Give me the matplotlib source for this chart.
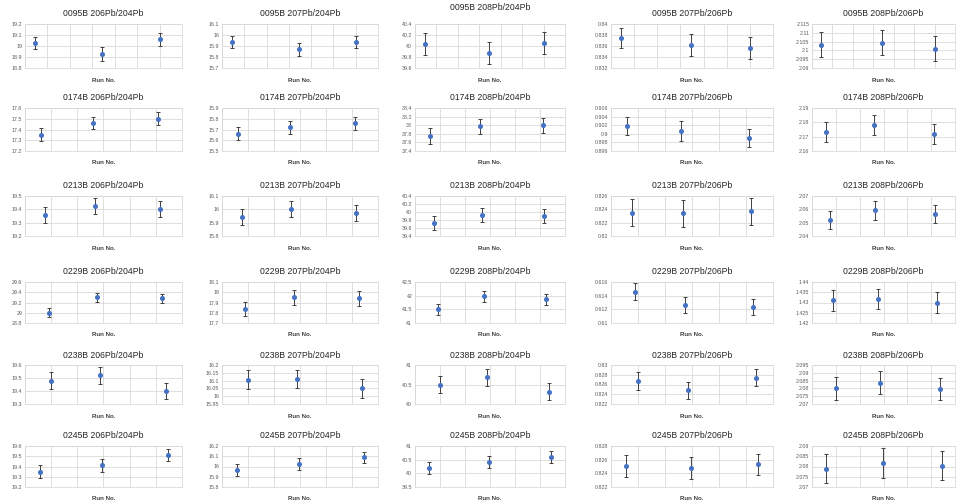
import matplotlib

matplotlib.use("Agg")
import matplotlib.pyplot as plt
import numpy as np

plt.rcParams["font.family"] = ["Liberation Sans", "DejaVu Sans"]

W, H = 958, 504

samples = ["0095B", "0174B", "0213B", "0229B", "0238B", "0245B"]
ratios = ["206Pb/204Pb", "207Pb/204Pb", "208Pb/204Pb", "207Pb/206Pb", "208Pb/206Pb"]

# run positions on the (unlabelled) x axis, one list per sample
run_x = {
    "0095B": [0.45, 3.45, 6.0],
    "0174B": [0.6, 2.6, 5.1],
    "0213B": [0.77, 2.66, 5.17],
    "0229B": [0.9, 2.75, 5.25],
    "0238B": [1.0, 2.87, 5.37],
    "0245B": [0.57, 2.96, 5.45],
}
x_max = {"0095B": 7, "0174B": 6, "0213B": 6, "0229B": 6, "0238B": 6, "0245B": 6}

# measured ratios (3 runs) per sample, in ratio order
vals_0095B = [[19.03, 18.93, 19.06], [15.94, 15.87, 15.935], [40.03, 39.88, 40.05],
              [0.8374, 0.8361, 0.8357], [2.1033, 2.1044, 2.101]]
vals_0174B = [[17.35, 17.46, 17.50], [15.66, 15.72, 15.76], [37.75, 37.97, 38.0],
              [0.9018, 0.9007, 0.899], [2.1735, 2.178, 2.172]]
vals_0213B = [[19.36, 19.425, 19.40], [15.945, 16.005, 15.975], [39.73, 39.93, 39.9],
              [0.8235, 0.8234, 0.8237], [2.052, 2.0592, 2.0566]]
vals_0229B = [[29.0, 29.3, 29.28], [17.835, 17.95, 17.94], [41.5, 41.97, 41.87],
              [0.6146, 0.6126, 0.6123], [1.431, 1.4317, 1.430]]
vals_0238B = [[19.478, 19.52, 19.40], [16.106, 16.11, 16.05], [40.5, 40.68, 40.32],
              [0.8267, 0.8248, 0.8274], [2.080, 2.0835, 2.0795]]
vals_0245B = [[19.35, 19.41, 19.51], [15.965, 16.025, 16.09], [40.2, 40.4, 40.6],
              [0.8251, 0.8248, 0.8253], [2.079, 2.0817, 2.0804]]

# 2-sigma error bars
errs_0095B = [[0.055, 0.065, 0.06], [0.055, 0.06, 0.055], [0.2, 0.2, 0.2],
              [0.0018, 0.002, 0.002], [0.0073, 0.007, 0.007]]
errs_0174B = [[0.06, 0.06, 0.06], [0.06, 0.06, 0.06], [0.18, 0.17, 0.17],
              [0.0021, 0.0023, 0.0021], [0.007, 0.007, 0.007]]
errs_0213B = [[0.06, 0.06, 0.06], [0.06, 0.06, 0.06], [0.17, 0.17, 0.17],
              [0.002, 0.002, 0.002], [0.0068, 0.007, 0.007]]
errs_0229B = [[0.09, 0.09, 0.09], [0.07, 0.07, 0.075], [0.2, 0.2, 0.2],
              [0.0012, 0.0012, 0.0012], [0.005, 0.005, 0.005]]
errs_0238B = [[0.065, 0.063, 0.063], [0.06, 0.06, 0.06], [0.22, 0.22, 0.21],
              [0.0018, 0.0017, 0.0017], [0.0072, 0.0074, 0.0072]]
errs_0245B = [[0.06, 0.06, 0.06], [0.055, 0.06, 0.055], [0.22, 0.22, 0.22],
              [0.0016, 0.0016, 0.0016], [0.007, 0.0075, 0.0072]]

# y axis (min, max, step) per panel
ylims_0095B = [(18.8, 19.2, 0.1), (15.7, 16.1, 0.1), (39.6, 40.4, 0.2),
               (0.832, 0.84, 0.002), (2.09, 2.115, 0.005)]
ylims_0174B = [(17.2, 17.6, 0.1), (15.5, 15.9, 0.1), (37.4, 38.4, 0.2),
               (0.896, 0.906, 0.002), (2.16, 2.19, 0.01)]
ylims_0213B = [(19.2, 19.5, 0.1), (15.8, 16.1, 0.1), (39.4, 40.4, 0.2),
               (0.82, 0.826, 0.002), (2.04, 2.07, 0.01)]
ylims_0229B = [(28.8, 29.6, 0.2), (17.7, 18.1, 0.1), (41.0, 42.5, 0.5),
               (0.61, 0.616, 0.002), (1.42, 1.44, 0.005)]
ylims_0238B = [(19.3, 19.6, 0.1), (15.95, 16.2, 0.05), (40.0, 41.0, 0.5),
               (0.822, 0.83, 0.002), (2.07, 2.095, 0.005)]
ylims_0245B = [(19.2, 19.6, 0.1), (15.8, 16.2, 0.1), (39.5, 41.0, 0.5),
               (0.822, 0.828, 0.002), (2.07, 2.09, 0.005)]

values = {"0095B": vals_0095B, "0174B": vals_0174B, "0213B": vals_0213B,
          "0229B": vals_0229B, "0238B": vals_0238B, "0245B": vals_0245B}
errors = {"0095B": errs_0095B, "0174B": errs_0174B, "0213B": errs_0213B,
          "0229B": errs_0229B, "0238B": errs_0238B, "0245B": errs_0245B}
ylims = {"0095B": ylims_0095B, "0174B": ylims_0174B, "0213B": ylims_0213B,
         "0229B": ylims_0229B, "0238B": ylims_0238B, "0245B": ylims_0245B}

# panel placement in pixels
col_left = [25, 222, 415, 611, 812]
col_right = [182, 378, 565, 773, 955]
row_top = [24, 108, 196, 282, 365, 446]
row_bottom = [68, 151, 236, 323, 404, 487]

GRID = "#d9d9d9"
TICK = "#595959"
BLUE = "#4472c4"

fig = plt.figure(figsize=(W / 100, H / 100), dpi=100)
fig.patch.set_facecolor("white")

for r, sample in enumerate(samples):
    for c, ratio in enumerate(ratios):
        x0, x1 = col_left[c], col_right[c]
        y0, y1 = row_top[r], row_bottom[r]
        ax = fig.add_axes([x0 / W, 1 - y1 / H, (x1 - x0) / W, (y1 - y0) / H])

        lo, hi, step = ylims[sample][c]
        ticks = np.round(np.arange(lo, hi + step / 2, step), 4)
        ax.set_ylim(lo, hi)
        ax.set_yticks(ticks)
        ax.set_yticklabels([f"{t:g}" for t in ticks], fontsize=3.8, color=TICK)
        xm = x_max[sample]
        ax.set_xlim(0, xm)
        ax.set_xticks(np.arange(0, xm + 1))
        ax.set_xticklabels([])
        ax.tick_params(length=0, pad=2)
        ax.grid(True, color=GRID, linewidth=0.6)
        ax.set_axisbelow(True)
        for sp in ax.spines.values():
            sp.set_color(GRID)
            sp.set_linewidth(0.6)

        ax.errorbar(run_x[sample], values[sample][c], yerr=errors[sample][c],
                    fmt="o", color=BLUE, markersize=2.6, ecolor="#404040",
                    elinewidth=0.7, capsize=1.5, capthick=0.7)

        cx = (x0 + x1) / 2 / W
        title_y = y0 - 10
        if r == 0 and c == 2:
            title_y = y0 - 16
        fig.text(cx, 1 - title_y / H, f"{sample} {ratio}", ha="center",
                 va="center", fontsize=6.2, color="#262626")
        fig.text(cx, 1 - (y1 + 12) / H, "Run No.", ha="center", va="center",
                 fontsize=4.4, color="#404040", fontweight="bold")

fig.savefig("out.png", dpi=100)
